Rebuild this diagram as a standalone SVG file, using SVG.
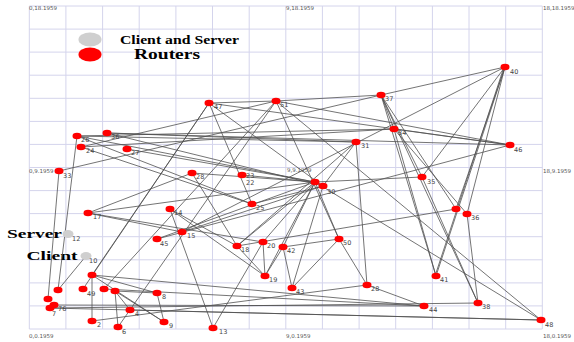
<svg xmlns="http://www.w3.org/2000/svg" width="574" height="342" viewBox="0 0 574 342">
<style>
.g{stroke:#d4d4ec;stroke-width:1}
.e line{stroke:#505050;stroke-width:0.8}
.r{fill:#f00}
.c{fill:#cfcfcf}
.l{font-family:"DejaVu Sans",sans-serif;font-size:6.5px;fill:#444}
.a{font-family:"DejaVu Sans",sans-serif;font-size:5.5px;fill:#555}
.t{font-family:"Liberation Serif",serif;font-weight:bold;fill:#000}
</style>
<rect width="574" height="342" fill="#fff"/>
<g id="grid" class="g">
<path d="M29.3 6V329M65.9 6V329M102.6 6V329M139.2 6V329M175.9 6V329M212.5 6V329M249.2 6V329M285.8 6V329M322.4 6V329M359.1 6V329M395.7 6V329M432.4 6V329M469 6V329M505.7 6V329M542.3 6V329"/>
<path d="M29.3 6H542.3M29.3 29.1H542.3M29.3 52.1H542.3M29.3 75.2H542.3M29.3 98.3H542.3M29.3 121.4H542.3M29.3 144.4H542.3M29.3 167.5H542.3M29.3 190.6H542.3M29.3 213.6H542.3M29.3 236.7H542.3M29.3 259.8H542.3M29.3 282.9H542.3M29.3 305.9H542.3M29.3 329H542.3"/>
</g>
<g id="axis-labels" class="a">
<text x="29" y="10">0,18.1959</text>
<text x="286" y="10">9,18.1959</text>
<text x="543" y="10">18,18.1959</text>
<text x="29" y="173">0,9.1959</text>
<text x="287" y="172">9,9.1959</text>
<text x="543" y="173">18,9.1959</text>
<text x="29" y="338">0,0.1959</text>
<text x="286" y="338">9,0.1959</text>
<text x="543" y="338">18,0.1959</text>
</g>
<g id="legend">
<ellipse cx="90" cy="39.5" rx="11.5" ry="7" class="c"/>
<ellipse cx="90" cy="54.5" rx="11.5" ry="7" class="r"/>
<text x="120" y="43.5" class="t" font-size="12.5" textLength="119" lengthAdjust="spacingAndGlyphs">Client and Server</text>
<text x="134" y="58.5" class="t" font-size="14.5" textLength="66" lengthAdjust="spacingAndGlyphs">Routers</text>
<text x="7" y="237.5" class="t" font-size="12.5" textLength="55" lengthAdjust="spacingAndGlyphs">Server</text>
<text x="26.5" y="260" class="t" font-size="12.5" textLength="51" lengthAdjust="spacingAndGlyphs">Client</text>
</g>
<g id="edges" class="e">
<line x1="505" y1="67" x2="381" y2="95"/>
<line x1="505" y1="67" x2="422" y2="177"/>
<line x1="505" y1="67" x2="436" y2="276"/>
<line x1="504" y1="67" x2="435" y2="276"/>
<line x1="505" y1="67" x2="456" y2="209"/>
<line x1="505" y1="67" x2="467" y2="214"/>
<line x1="505" y1="67" x2="182" y2="232"/>
<line x1="381" y1="95" x2="394" y2="129"/>
<line x1="381" y1="95" x2="422" y2="177"/>
<line x1="381" y1="95" x2="456" y2="209"/>
<line x1="381" y1="95" x2="436" y2="276"/>
<line x1="381" y1="95" x2="478" y2="303"/>
<line x1="381" y1="95" x2="59" y2="171"/>
<line x1="381" y1="95" x2="276" y2="101"/>
<line x1="209" y1="103" x2="276" y2="101"/>
<line x1="209" y1="103" x2="510" y2="145"/>
<line x1="209" y1="103" x2="323" y2="186"/>
<line x1="209" y1="103" x2="92" y2="275"/>
<line x1="209" y1="103" x2="83" y2="289"/>
<line x1="209" y1="103" x2="252" y2="204"/>
<line x1="276" y1="101" x2="510" y2="145"/>
<line x1="276" y1="101" x2="339" y2="239"/>
<line x1="276" y1="101" x2="104" y2="289"/>
<line x1="276" y1="101" x2="118" y2="327"/>
<line x1="276" y1="101" x2="541" y2="320"/>
<line x1="276" y1="101" x2="81" y2="147"/>
<line x1="394" y1="129" x2="77" y2="136"/>
<line x1="394" y1="129" x2="436" y2="276"/>
<line x1="394" y1="129" x2="467" y2="214"/>
<line x1="394" y1="129" x2="510" y2="145"/>
<line x1="394" y1="129" x2="81" y2="147"/>
<line x1="510" y1="145" x2="157" y2="239"/>
<line x1="510" y1="145" x2="107" y2="133"/>
<line x1="356" y1="142" x2="107" y2="133"/>
<line x1="356" y1="142" x2="77" y2="136"/>
<line x1="356" y1="142" x2="367" y2="285"/>
<line x1="356" y1="142" x2="323" y2="186"/>
<line x1="356" y1="142" x2="237" y2="246"/>
<line x1="422" y1="177" x2="315" y2="182"/>
<line x1="422" y1="177" x2="478" y2="303"/>
<line x1="456" y1="209" x2="237" y2="246"/>
<line x1="467" y1="214" x2="478" y2="303"/>
<line x1="367" y1="285" x2="339" y2="239"/>
<line x1="367" y1="285" x2="424" y2="306"/>
<line x1="315" y1="182" x2="263" y2="242"/>
<line x1="315" y1="182" x2="237" y2="246"/>
<line x1="315" y1="182" x2="265" y2="276"/>
<line x1="315" y1="182" x2="283" y2="247"/>
<line x1="315" y1="182" x2="339" y2="239"/>
<line x1="315" y1="182" x2="541" y2="320"/>
<line x1="315" y1="182" x2="192" y2="173"/>
<line x1="315" y1="182" x2="242" y2="175"/>
<line x1="315" y1="182" x2="77" y2="136"/>
<line x1="315" y1="182" x2="127" y2="149"/>
<line x1="315" y1="182" x2="157" y2="239"/>
<line x1="315" y1="182" x2="88" y2="213"/>
<line x1="323" y1="186" x2="292" y2="288"/>
<line x1="323" y1="186" x2="107" y2="133"/>
<line x1="323" y1="186" x2="252" y2="204"/>
<line x1="323" y1="186" x2="182" y2="232"/>
<line x1="252" y1="204" x2="77" y2="136"/>
<line x1="252" y1="204" x2="81" y2="147"/>
<line x1="192" y1="173" x2="88" y2="213"/>
<line x1="192" y1="173" x2="237" y2="246"/>
<line x1="77" y1="136" x2="58" y2="290"/>
<line x1="59" y1="171" x2="48" y2="299"/>
<line x1="88" y1="213" x2="182" y2="232"/>
<line x1="88" y1="213" x2="263" y2="242"/>
<line x1="170" y1="209" x2="237" y2="246"/>
<line x1="170" y1="209" x2="265" y2="276"/>
<line x1="170" y1="209" x2="213" y2="328"/>
<line x1="263" y1="242" x2="265" y2="276"/>
<line x1="283" y1="247" x2="265" y2="276"/>
<line x1="237" y1="246" x2="265" y2="276"/>
<line x1="283" y1="247" x2="292" y2="288"/>
<line x1="339" y1="239" x2="292" y2="288"/>
<line x1="283" y1="247" x2="339" y2="239"/>
<line x1="263" y1="242" x2="213" y2="328"/>
<line x1="86" y1="256" x2="58" y2="290"/>
<line x1="92" y1="275" x2="157" y2="293"/>
<line x1="92" y1="275" x2="164" y2="322"/>
<line x1="92" y1="275" x2="92" y2="321"/>
<line x1="92" y1="275" x2="424" y2="306"/>
<line x1="50" y1="308" x2="541" y2="320"/>
<line x1="130" y1="310" x2="541" y2="320"/>
<line x1="104" y1="289" x2="424" y2="306"/>
<line x1="115" y1="291" x2="157" y2="293"/>
<line x1="115" y1="291" x2="164" y2="322"/>
<line x1="115" y1="291" x2="130" y2="310"/>
<line x1="115" y1="291" x2="118" y2="327"/>
<line x1="92" y1="321" x2="367" y2="285"/>
<line x1="157" y1="293" x2="164" y2="322"/>
<line x1="54" y1="305" x2="424" y2="306"/>
<line x1="50" y1="308" x2="478" y2="303"/>
</g>
<g id="n40"><ellipse cx="505" cy="67" rx="4.5" ry="3.3" class="r"/><text x="510" y="74" class="l">40</text></g>
<g id="n37"><ellipse cx="381" cy="95" rx="4.5" ry="3.3" class="r"/><text x="385" y="101" class="l">37</text></g>
<g id="n47"><ellipse cx="209" cy="103" rx="4.5" ry="3.3" class="r"/><text x="214" y="109" class="l">47</text></g>
<g id="n51"><ellipse cx="276" cy="101" rx="4.5" ry="3.3" class="r"/><text x="280" y="107" class="l">51</text></g>
<g id="n34"><ellipse cx="394" cy="129" rx="4.5" ry="3.3" class="r"/><text x="398" y="135" class="l">34</text></g>
<g id="n46"><ellipse cx="510" cy="145" rx="4.5" ry="3.3" class="r"/><text x="514" y="152" class="l">46</text></g>
<g id="n35"><ellipse cx="422" cy="177" rx="4.5" ry="3.3" class="r"/><text x="427" y="184" class="l">35</text></g>
<g id="n39"><ellipse cx="456" cy="209" rx="4.5" ry="3.3" class="r"/></g>
<g id="n36"><ellipse cx="467" cy="214" rx="4.5" ry="3.3" class="r"/><text x="471" y="220" class="l">36</text></g>
<g id="n31"><ellipse cx="356" cy="142" rx="4.5" ry="3.3" class="r"/><text x="361" y="148" class="l">31</text></g>
<g id="n29"><ellipse cx="315" cy="182" rx="4.5" ry="3.3" class="r"/></g>
<g id="n30"><ellipse cx="323" cy="186" rx="4.5" ry="3.3" class="r"/><text x="327" y="194" class="l">30</text></g>
<g id="n22"><ellipse cx="242" cy="175" rx="4.5" ry="3.3" class="r"/><text x="246" y="177.5" class="l" font-size="5.5">23</text><text x="246" y="185" class="l" font-size="5.5">22</text></g>
<g id="n25"><ellipse cx="252" cy="204" rx="4.5" ry="3.3" class="r"/><text x="256" y="210" class="l">25</text></g>
<g id="n28a"><ellipse cx="192" cy="173" rx="4.5" ry="3.3" class="r"/><text x="196" y="179" class="l">28</text></g>
<g id="n26"><ellipse cx="77" cy="136" rx="4.5" ry="3.3" class="r"/><text x="81" y="142" class="l">26</text></g>
<g id="n36b"><ellipse cx="107" cy="133" rx="4.5" ry="3.3" class="r"/><text x="111" y="139" class="l">36</text></g>
<g id="n24"><ellipse cx="81" cy="147" rx="4.5" ry="3.3" class="r"/><text x="86" y="153" class="l">24</text></g>
<g id="n27"><ellipse cx="127" cy="149" rx="4.5" ry="3.3" class="r"/><text x="131" y="155" class="l">27</text></g>
<g id="n33"><ellipse cx="59" cy="171" rx="4.5" ry="3.3" class="r"/><text x="63" y="178" class="l">33</text></g>
<g id="n17"><ellipse cx="88" cy="213" rx="4.5" ry="3.3" class="r"/><text x="93" y="219" class="l">17</text></g>
<g id="n14"><ellipse cx="170" cy="209" rx="4.5" ry="3.3" class="r"/><text x="174" y="215" class="l">14</text></g>
<g id="n45"><ellipse cx="157" cy="239" rx="4.5" ry="3.3" class="r"/><text x="160" y="246" class="l">45</text></g>
<g id="n15"><ellipse cx="182" cy="232" rx="4.5" ry="3.3" class="r"/><text x="187" y="238" class="l">15</text></g>
<g id="n18"><ellipse cx="237" cy="246" rx="4.5" ry="3.3" class="r"/><text x="241" y="252" class="l">18</text></g>
<g id="n20"><ellipse cx="263" cy="242" rx="4.5" ry="3.3" class="r"/><text x="267" y="248" class="l">20</text></g>
<g id="n42"><ellipse cx="283" cy="247" rx="4.5" ry="3.3" class="r"/><text x="287" y="253" class="l">42</text></g>
<g id="n50"><ellipse cx="339" cy="239" rx="4.5" ry="3.3" class="r"/><text x="343" y="245" class="l">50</text></g>
<g id="n19"><ellipse cx="265" cy="276" rx="4.5" ry="3.3" class="r"/><text x="269" y="282" class="l">19</text></g>
<g id="n43"><ellipse cx="292" cy="288" rx="4.5" ry="3.3" class="r"/><text x="296" y="294" class="l">43</text></g>
<g id="n28b"><ellipse cx="367" cy="285" rx="4.5" ry="3.3" class="r"/><text x="371" y="291" class="l">28</text></g>
<g id="n41"><ellipse cx="436" cy="276" rx="4.5" ry="3.3" class="r"/><text x="440" y="282" class="l">41</text></g>
<g id="n44"><ellipse cx="424" cy="306" rx="4.5" ry="3.3" class="r"/><text x="429" y="312" class="l">44</text></g>
<g id="n38"><ellipse cx="478" cy="303" rx="4.5" ry="3.3" class="r"/><text x="482" y="309" class="l">38</text></g>
<g id="n48"><ellipse cx="541" cy="320" rx="4.5" ry="3.3" class="r"/><text x="545" y="327" class="l">48</text></g>
<g id="n13"><ellipse cx="213" cy="328" rx="4.5" ry="3.3" class="r"/><text x="219" y="334" class="l">13</text></g>
<g id="nA"><ellipse cx="92" cy="275" rx="4.5" ry="3.3" class="r"/></g>
<g id="nB"><ellipse cx="58" cy="290" rx="4.5" ry="3.3" class="r"/></g>
<g id="n49"><ellipse cx="83" cy="289" rx="4.5" ry="3.3" class="r"/><text x="87" y="296" class="l">49</text></g>
<g id="nC"><ellipse cx="104" cy="289" rx="4.5" ry="3.3" class="r"/></g>
<g id="n1"><ellipse cx="115" cy="291" rx="4.5" ry="3.3" class="r"/></g>
<g id="n8"><ellipse cx="157" cy="293" rx="4.5" ry="3.3" class="r"/><text x="162" y="299" class="l">8</text></g>
<g id="nD"><ellipse cx="48" cy="299" rx="4.5" ry="3.3" class="r"/></g>
<g id="nF"><ellipse cx="54" cy="305" rx="4.5" ry="3.3" class="r"/><text x="58" y="311" class="l">76</text></g>
<g id="nE"><ellipse cx="50" cy="308" rx="4.5" ry="3.3" class="r"/><text x="52" y="316" class="l">7</text></g>
<g id="n4"><ellipse cx="130" cy="310" rx="4.5" ry="3.3" class="r"/><text x="135" y="316" class="l">4</text></g>
<g id="n2"><ellipse cx="92" cy="321" rx="4.5" ry="3.3" class="r"/><text x="97" y="327" class="l">2</text></g>
<g id="n6"><ellipse cx="118" cy="327" rx="4.5" ry="3.3" class="r"/><text x="122" y="334" class="l">6</text></g>
<g id="n9"><ellipse cx="164" cy="322" rx="4.5" ry="3.3" class="r"/><text x="169" y="328" class="l">9</text></g>
<g id="n12"><ellipse cx="68" cy="234" rx="5.5" ry="4" class="c"/><text x="72" y="241" class="l">12</text></g>
<g id="n10"><ellipse cx="86" cy="256" rx="5.5" ry="4" class="c"/><text x="89" y="263" class="l">10</text></g>
</svg>
